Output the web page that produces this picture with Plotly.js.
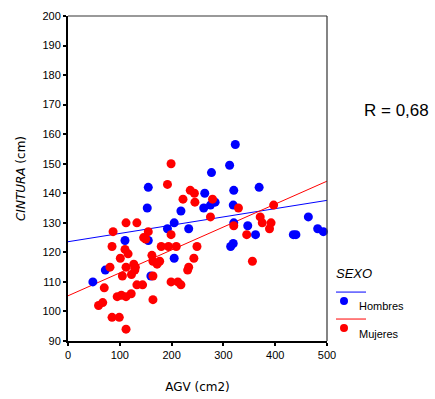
<!DOCTYPE html>
<html><head><meta charset="utf-8">
<script src="https://cdn.plot.ly/plotly-3.0.1.min.js"></script>
<style>body{margin:0;background:#fff}#c{width:435px;height:399px}</style>
</head><body><div id="c"></div>
<script>
// Hombres (blue)
const hombresX = [323,312,277,155,153,218,205,192,233,110,155,205,72,160,48,264,320,369,275,284,262,319,464,320,347,362,435,440,482,493,319,314];
const hombresY = [156.5,149.5,147,142,135,134,130,128,128,124,124,118,114,112,110,140,141,142,136,137,135,136,132,130,129,126,126,126,128,127,123,122];
// Mujeres (red)
const mujeresX = [199,192,236,244,222,245,112,133,87,155,199,146,150,85,110,180,194,209,116,162,101,164,172,177,243,249,127,81,112,130,129,122.5,105,233,231,164,199,212,218,70,133,144,95,103,112,122,164,67,59,85,99,112,279,329,397,275,371,375,392,320,389,345,356];
const mujeresY = [150,143,141,140,138,137,130,130,127,127,126,125,124.5,122,121,122,122,122,119.5,119,118,117,116,117,118,122,116,115,115,115,114,112.5,112,115,114,112,110,110,109,108,109,109,105,105.5,105,106,104,103,102,98,98,94,138,135,136,132,132,130,130,129,128,126,117];
// Fit lines
const fitX = [0,500];
const hombresFit = [123.6,137.6];
const mujeresFit = [105.3,144.1];
const xTicks = [0,100,200,300,400,500];
const yTicks = [90,100,110,120,130,140,150,160,170,180,190,200];

const L=68,R=327,T=15.5,B=341;
const px=x=>(x-L)/(R-L), py=y=>(B-y)/(B-T);

const traces = [
 {x:fitX,y:hombresFit,mode:'lines',line:{color:'#0000ff',width:1},hoverinfo:'skip'},
 {x:fitX,y:mujeresFit,mode:'lines',line:{color:'#ff0000',width:1},hoverinfo:'skip'},
 {x:hombresX,y:hombresY,mode:'markers',marker:{color:'#0000ff',size:9},cliponaxis:false},
 {x:mujeresX,y:mujeresY,mode:'markers',marker:{color:'#ff0000',size:9},cliponaxis:false}
];
const f='Arial, Liberation Sans, sans-serif';
const layout = {
 width:435,height:399,showlegend:false,
 margin:{l:L,r:435-R,t:T,b:399-B},
 paper_bgcolor:'#fff',plot_bgcolor:'#fff',
 font:{family:f,size:11,color:'#000'},
 xaxis:{range:[0,500],tickvals:xTicks,ticktext:xTicks.map(String),ticks:'outside',ticklen:3,tickwidth:2,tickcolor:'#000',
   showline:true,linecolor:'#000',linewidth:2,showgrid:false,zeroline:false,mirror:false,
   title:{text:'AGV (cm2)',font:{family:'DejaVu Sans',size:12,color:'#000'},standoff:22}},
 yaxis:{range:[90,200],tickvals:yTicks,ticktext:yTicks.map(String),ticks:'outside',ticklen:3,tickwidth:2,tickcolor:'#000',
   showline:true,linecolor:'#000',linewidth:2,showgrid:false,zeroline:false,
   title:{text:'<i>CINTURA</i> (cm)',font:{family:'DejaVu Sans',size:12,color:'#000'},standoff:14}},
 shapes:[
  {type:'line',xref:'paper',yref:'paper',x0:0,x1:1,y0:1,y1:1,line:{color:'#777',width:1.5}},
  {type:'line',xref:'paper',yref:'paper',x0:1,x1:1,y0:0,y1:1,line:{color:'#333',width:1.2}},
  {type:'line',xref:'paper',yref:'paper',x0:px(336),x1:px(366),y0:py(292),y1:py(292),line:{color:'#0000ff',width:1}},
  {type:'line',xref:'paper',yref:'paper',x0:px(336),x1:px(366),y0:py(319),y1:py(319),line:{color:'#ff0000',width:1}},
  {type:'circle',xref:'paper',yref:'paper',x0:px(340),x1:px(348),y0:py(297),y1:py(305),fillcolor:'#0000ff',line:{width:0}},
  {type:'circle',xref:'paper',yref:'paper',x0:px(340),x1:px(348),y0:py(324),y1:py(332),fillcolor:'#ff0000',line:{width:0}}
 ],
 annotations:[
  {xref:'paper',yref:'paper',x:px(362),y:py(110),text:'R = 0,68',showarrow:false,xanchor:'left',yanchor:'middle',font:{family:f,size:17,color:'#000'}},
  {xref:'paper',yref:'paper',x:px(334),y:py(273),text:'<i>SEXO</i>',showarrow:false,xanchor:'left',yanchor:'middle',font:{family:f,size:13,color:'#000'}},
  {xref:'paper',yref:'paper',x:px(357),y:py(306),text:'Hombres',showarrow:false,xanchor:'left',yanchor:'middle',font:{family:f,size:11,color:'#000'}},
  {xref:'paper',yref:'paper',x:px(357),y:py(334),text:'Mujeres',showarrow:false,xanchor:'left',yanchor:'middle',font:{family:f,size:11,color:'#000'}}
 ]
};
Plotly.newPlot('c',traces,layout,{displayModeBar:false,staticPlot:true});
</script></body></html>
